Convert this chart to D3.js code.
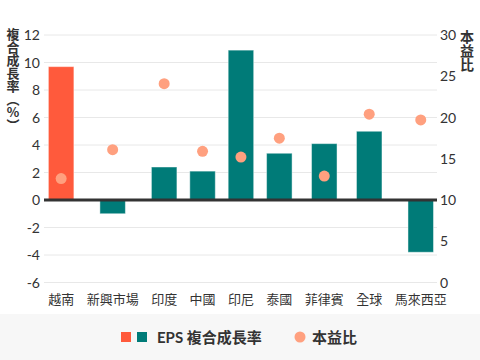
<!DOCTYPE html>
<html><head><meta charset="utf-8">
<script src="https://cdn.jsdelivr.net/npm/d3@7"></script>
<style>
body{margin:0;background:#fff;}
svg{display:block;font-family:Lato,"Noto Sans CJK TC",sans-serif;}
</style></head>
<body><svg id="c" width="480" height="360"></svg>
<script>
const categories = ["越南","新興市場","印度","中國","印尼","泰國","菲律賓","全球","馬來西亞"];
const epsGrowth = [9.7,-1.0,2.4,2.1,10.9,3.4,4.1,5.0,-3.8];
const peRatio = [12.6,16.1,24.1,15.9,15.2,17.5,12.9,20.4,19.7];
const leftTicks = [-6,-4,-2,0,2,4,6,8,10,12];
const rightTicks = [0,5,10,15,20,25,30];
const highlight = "越南";

const svg = d3.select("#c");
const W=480,H=360;
const orange="#FF5A3C", teal="#007B78", dot="#FFA07F", txt="#333";

const yL = d3.scaleLinear().domain([-6,12]).range([282.5,35]);
const yR = d3.scaleLinear().domain([0,30]).range([282.5,35]);

// legend background
svg.append("rect").attr("x",0).attr("y",314).attr("width",W).attr("height",H-314).attr("fill","#F7F7F7");

// grid
svg.append("g").selectAll("line").data(leftTicks).join("line")
  .attr("x1",44).attr("x2",437).attr("y1",d=>yL(d)).attr("y2",d=>yL(d))
  .attr("stroke","#E8E8E8").attr("stroke-width",1);

// measure labels for x layout
const labG = svg.append("g").attr("font-size",13).attr("fill",txt);
const labs = labG.selectAll("text").data(categories).join("text").text(d=>d).attr("text-anchor","middle");
const widths = []; labs.each(function(){widths.push(this.getComputedTextLength());});
const gap = 12;
const centers = []; let acc=0;
widths.forEach((w,i)=>{centers.push(acc+w/2); acc+=w+gap;});
const total = acc-gap;
const xs = d3.scaleLinear().domain([0,total]).range([48,447]);
const xC = d3.scaleOrdinal().domain(categories).range(centers.map(c=>xs(c)));
labs.attr("x",d=>xC(d)).attr("y",304);

const bw = 25.5;
svg.append("g").selectAll("rect").data(categories).join("rect")
  .attr("x",d=>xC(d)-bw/2).attr("width",bw)
  .attr("y",(d,i)=>yL(Math.max(0,epsGrowth[i])))
  .attr("height",(d,i)=>Math.abs(yL(epsGrowth[i])-yL(0)))
  .attr("fill",d=>d===highlight?orange:teal)
  .attr("stroke","rgba(255,255,255,0.45)").attr("stroke-width",1);

// zero line
svg.append("line").attr("x1",44).attr("x2",437).attr("y1",yL(0)).attr("y2",yL(0))
  .attr("stroke","#333").attr("stroke-width",3);

// dots
svg.append("g").selectAll("circle").data(categories).join("circle")
  .attr("cx",d=>xC(d)).attr("cy",(d,i)=>yR(peRatio[i])).attr("r",5.5)
  .attr("fill",dot);

// axes text
svg.append("g").attr("font-size",14).attr("fill",txt).attr("text-anchor","end")
  .selectAll("text").data(leftTicks).join("text")
  .attr("x",40).attr("y",d=>yL(d)).attr("dy","0.36em").text(d=>d);
svg.append("g").attr("font-size",14).attr("fill",txt).attr("text-anchor","start")
  .selectAll("text").data(rightTicks).join("text")
  .attr("x",440).attr("y",d=>yR(d)).attr("dy","0.36em").text(d=>d);

svg.append("text").attr("x",13).attr("y",28).attr("font-size",13).attr("font-weight","bold").attr("fill",txt)
  .style("writing-mode","vertical-rl").style("text-orientation","upright")
  .attr("font-family","'Noto Sans CJK TC',sans-serif")
  .text("複合成長率（%）");
svg.append("text").attr("x",467).attr("y",30).attr("font-size",14).attr("font-weight","bold").attr("fill",txt)
  .style("writing-mode","vertical-rl").style("text-orientation","upright")
  .attr("font-family","'Noto Sans CJK TC',sans-serif")
  .text("本益比");

// legend
const lg = svg.append("g");
lg.append("rect").attr("x",121).attr("y",332).attr("width",10).attr("height",10).attr("fill",orange);
lg.append("rect").attr("x",137).attr("y",332).attr("width",10).attr("height",10).attr("fill",teal);
lg.append("text").attr("x",157).attr("y",342.5).attr("font-size",15).attr("font-weight","bold").attr("fill",txt).text("EPS 複合成長率");
lg.append("circle").attr("cx",300).attr("cy",337).attr("r",5.5).attr("fill",dot);
lg.append("text").attr("x",312).attr("y",342.5).attr("font-size",15).attr("font-weight","bold").attr("fill",txt).text("本益比");
</script></body></html>
